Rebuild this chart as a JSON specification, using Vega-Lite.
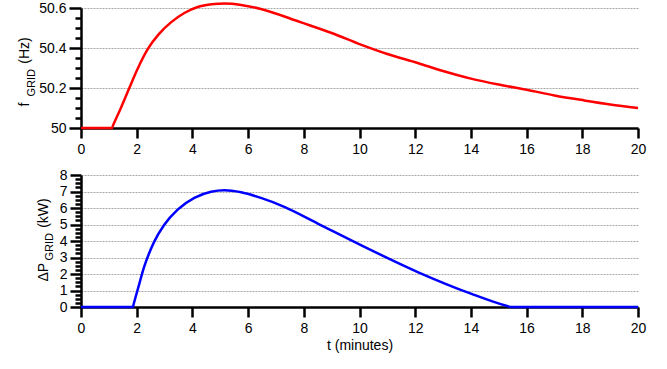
{
  "$schema": "https://vega.github.io/schema/vega-lite/v6.json",
  "padding": {"left": 17, "top": -2, "right": 12, "bottom": 5},
  "spacing": 12,
  "background": "white",
  "config": {
    "view": {"stroke": null},
    "font": "Liberation Sans",
    "axis": {
      "domainColor": "black", "domainWidth": 2.5,
      "tickColor": "black", "tickWidth": 2.5,
      "labelFont": "Liberation Sans", "labelFontSize": 14, "labelColor": "black",
      "titleFont": "Liberation Sans", "titleFontSize": 14, "titleColor": "black", "titleFontWeight": "normal",
      "gridColor": "#a8a8a8", "gridDash": [2, 1], "gridWidth": 1
    }
  },
  "datasets": {
    "freq": [
      {"t": 0, "f": 50}, {"t": 1.11, "f": 50}, {"t": 1.16, "f": 50.016}, {"t": 1.44, "f": 50.103}, {"t": 1.735, "f": 50.2},
      {"t": 2.03, "f": 50.295}, {"t": 2.39, "f": 50.393}, {"t": 2.81, "f": 50.472}, {"t": 3.23, "f": 50.528},
      {"t": 3.71, "f": 50.575}, {"t": 4.19, "f": 50.605}, {"t": 4.79, "f": 50.62}, {"t": 5.15, "f": 50.622},
      {"t": 5.75, "f": 50.615}, {"t": 6.46, "f": 50.595}, {"t": 7.9, "f": 50.528}, {"t": 9.0, "f": 50.475},
      {"t": 10.05, "f": 50.417}, {"t": 11.0, "f": 50.37}, {"t": 12.09, "f": 50.325}, {"t": 13.0, "f": 50.285},
      {"t": 14.0, "f": 50.247}, {"t": 15.0, "f": 50.217}, {"t": 16.04, "f": 50.19}, {"t": 17.0, "f": 50.163},
      {"t": 18.07, "f": 50.138}, {"t": 19.0, "f": 50.118}, {"t": 20, "f": 50.1}
    ],
    "power": [
      {"t": 0, "p": 0}, {"t": 1.86, "p": 0}, {"t": 1.9, "p": 0.24}, {"t": 2.03, "p": 1.02}, {"t": 2.27, "p": 2.44},
      {"t": 2.63, "p": 3.96}, {"t": 2.99, "p": 4.98}, {"t": 3.47, "p": 5.9}, {"t": 4.07, "p": 6.61},
      {"t": 4.67, "p": 6.98}, {"t": 5.15, "p": 7.07}, {"t": 5.75, "p": 6.95}, {"t": 6.46, "p": 6.61},
      {"t": 7.3, "p": 6.07}, {"t": 8.5, "p": 5.06}, {"t": 10.05, "p": 3.75}, {"t": 12.09, "p": 2.12},
      {"t": 14.0, "p": 0.81}, {"t": 15.3, "p": 0.06}, {"t": 15.44, "p": 0}, {"t": 20, "p": 0}
    ]
  },
  "vconcat": [
    {
      "width": 557, "height": 120,
      "data": {"name": "freq"},
      "layer": [
        {
          "mark": {"type": "line", "color": "#ff0000", "strokeWidth": 2.5, "interpolate": "monotone", "clip": false},
          "encoding": {
            "x": {"field": "t", "type": "quantitative", "scale": {"domain": [0, 20], "nice": false},
                  "axis": {"values": [0, 2, 4, 6, 8, 10, 12, 14, 16, 18, 20], "grid": false, "tickSize": 10, "labelPadding": 4, "labelFlush": false, "title": null}},
            "y": {"field": "f", "type": "quantitative", "scale": {"domain": [50, 50.6], "nice": false, "zero": false},
                  "axis": {"values": [50, 50.2, 50.4, 50.6], "labelExpr": "datum.value == 50 ? '50' : format(datum.value, '.1f')",
                           "grid": true, "tickSize": 12, "labelPadding": 3,
                           "title": "f\u00a0\u00a0\u00a0\u00a0\u00a0\u00a0\u00a0\u00a0\u00a0\u00a0(Hz)", "titleAngle": -90, "titleAlign": "left", "titleBaseline": "alphabetic",
                           "titleX": -53, "titleY": 98}}
          }
        },
        {
          "mark": {"type": "line", "strokeOpacity": 0},
          "encoding": {
            "x": {"field": "t", "type": "quantitative"},
            "y": {"field": "f", "type": "quantitative",
                  "axis": {"orient": "left", "values": [50.05, 50.1, 50.15, 50.25, 50.3, 50.35, 50.45, 50.5, 50.55],
                           "labels": false, "domain": false, "grid": false, "tickSize": 6,
                           "title": "GRID", "titleFontSize": 11, "titleAngle": -90, "titleAlign": "left", "titleBaseline": "alphabetic",
                           "titleX": -47, "titleY": 88}}
          }
        }
      ],
      "resolve": {"axis": {"y": "independent"}}
    },
    {
      "width": 557, "height": 132,
      "data": {"name": "power"},
      "layer": [
        {
          "mark": {"type": "line", "color": "#0000ff", "strokeWidth": 2.5, "interpolate": "monotone", "clip": false},
          "encoding": {
            "x": {"field": "t", "type": "quantitative", "scale": {"domain": [0, 20], "nice": false},
                  "axis": {"values": [0, 2, 4, 6, 8, 10, 12, 14, 16, 18, 20], "grid": false, "tickSize": 10, "labelPadding": 4, "labelFlush": false,
                           "title": "t (minutes)", "titlePadding": 3}},
            "y": {"field": "p", "type": "quantitative", "scale": {"domain": [0, 8], "nice": false},
                  "axis": {"values": [0, 1, 2, 3, 4, 5, 6, 7, 8], "grid": true, "tickSize": 11, "labelPadding": 3,
                           "title": "ΔP\u00a0\u00a0\u00a0\u00a0\u00a0\u00a0\u00a0\u00a0\u00a0(kW)", "titleAngle": -90, "titleAlign": "left", "titleBaseline": "alphabetic",
                           "titleX": -34, "titleY": 106}}
          }
        },
        {
          "mark": {"type": "line", "strokeOpacity": 0},
          "encoding": {
            "x": {"field": "t", "type": "quantitative"},
            "y": {"field": "p", "type": "quantitative",
                  "axis": {"orient": "left", "values": [0.25, 0.5, 0.75, 1.25, 1.5, 1.75, 2.25, 2.5, 2.75, 3.25, 3.5, 3.75, 4.25, 4.5, 4.75, 5.25, 5.5, 5.75, 6.25, 6.5, 6.75, 7.25, 7.5, 7.75],
                           "labels": false, "domain": false, "grid": false, "tickSize": 6,
                           "title": "GRID", "titleFontSize": 11, "titleAngle": -90, "titleAlign": "left", "titleBaseline": "alphabetic",
                           "titleX": -29, "titleY": 85}}
          }
        }
      ],
      "resolve": {"axis": {"y": "independent"}}
    }
  ]
}
